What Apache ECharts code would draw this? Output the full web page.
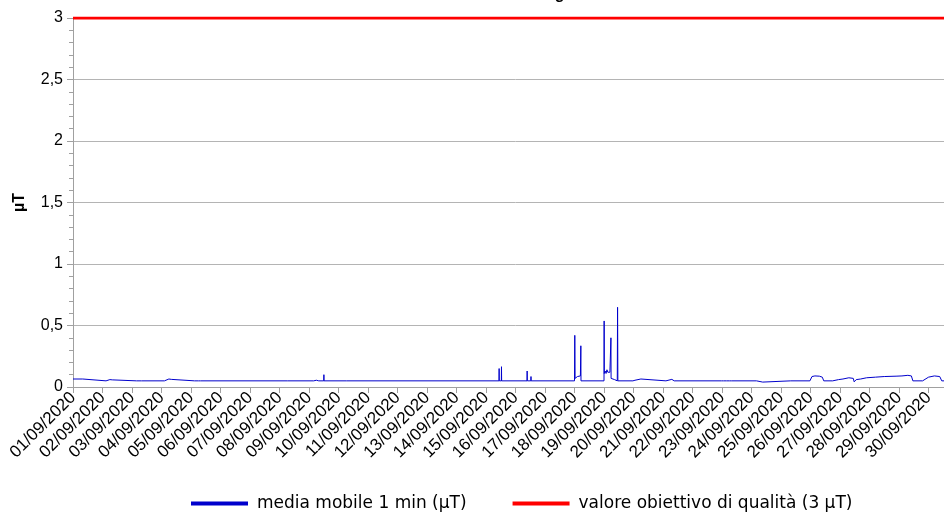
<!DOCTYPE html>
<html>
<head>
<meta charset="utf-8">
<script src="https://cdn.jsdelivr.net/npm/echarts@6/dist/echarts.min.js"></script>
<style>html,body{margin:0;padding:0;background:#fff;overflow:hidden;width:944px;height:513px;}#c{width:958px;height:513px;}</style>
</head>
<body>
<div id="c"></div>
<script>
// Day offsets from 01/09/2020 00:00 and values (µT)
var dateLabels = ['01/09/2020','02/09/2020','03/09/2020','04/09/2020','05/09/2020','06/09/2020','07/09/2020','08/09/2020','09/09/2020','10/09/2020','11/09/2020','12/09/2020','13/09/2020','14/09/2020','15/09/2020','16/09/2020','17/09/2020','18/09/2020','19/09/2020','20/09/2020','21/09/2020','22/09/2020','23/09/2020','24/09/2020','25/09/2020','26/09/2020','27/09/2020','28/09/2020','29/09/2020','30/09/2020','01/10/2020'];
var yTicks = [0, 0.5, 1, 1.5, 2, 2.5, 3];
var blueDays = [0,0.33,0.36,1.12,1.14,1.25,1.33,1.36,2.15,2.16,2.18,2.32,2.33,2.35,3.1,3.14,3.25,3.33,3.37,4.12,4.13,4.15,4.25,4.27,4.32,4.34,4.36,7.28,7.29,7.32,8.16,8.17,8.2,8.25,8.3,8.33,8.5,8.505,8.51,9.28,9.29,9.31,14.44,14.445,14.45,14.52,14.525,14.53,15.39,15.395,15.4,15.52,15.525,15.53,17.0,17.01,17.02,17.06,17.1,17.15,17.2,17.215,17.22,18.0,18.005,18.01,18.04,18.07,18.1,18.13,18.16,18.2,18.235,18.24,18.3,18.36,18.38,18.45,18.46,18.465,18.47,18.98,19.0,19.05,19.1,19.25,19.3,20.1,20.15,20.3,20.38,21.98,22.0,22.05,22.1,22.15,22.2,22.25,22.3,22.33,23.17,23.18,23.38,23.4,24.33,24.34,24.36,24.98,25.05,25.15,25.3,25.4,25.45,25.75,25.77,25.8,25.95,26.1,26.3,26.45,26.48,26.55,26.7,26.9,27.2,27.5,27.9,28.1,28.3,28.42,28.47,28.8,28.85,29.0,29.2,29.38,29.45,30];
var blueValues = [0.065,0.065,0.05,0.05,0.062,0.06,0.058,0.05,0.05,0.042,0.05,0.05,0.042,0.05,0.05,0.06,0.065,0.062,0.05,0.05,0.042,0.05,0.05,0.055,0.05,0.042,0.05,0.05,0.043,0.05,0.05,0.043,0.05,0.055,0.06,0.05,0.05,0.1,0.05,0.05,0.043,0.05,0.05,0.15,0.05,0.05,0.165,0.05,0.05,0.13,0.05,0.05,0.085,0.05,0.05,0.42,0.07,0.08,0.085,0.08,0.09,0.335,0.05,0.05,0.537,0.11,0.13,0.11,0.14,0.12,0.135,0.12,0.4,0.07,0.06,0.06,0.05,0.05,0.648,0.4,0.05,0.05,0.04,0.055,0.062,0.065,0.05,0.05,0.06,0.062,0.05,0.05,0.04,0.05,0.04,0.05,0.04,0.05,0.04,0.05,0.05,0.04,0.04,0.05,0.05,0.04,0.05,0.05,0.085,0.09,0.088,0.08,0.05,0.05,0.045,0.055,0.06,0.065,0.075,0.07,0.042,0.06,0.065,0.075,0.08,0.085,0.088,0.09,0.095,0.09,0.05,0.05,0.065,0.08,0.09,0.085,0.05,0.05];
var redDays = [0, 30];
var redValues = [3, 3];

var blueData = blueDays.map(function (d, i) { return [d, blueValues[i]]; });
var redData = redDays.map(function (d, i) { return [d, redValues[i]]; });

var chart = echarts.init(document.getElementById('c'), null, {renderer: 'canvas'});
chart.setOption({
  animation: false,
  backgroundColor: '#ffffff',
  title: {
    text: "Andamento dell'induzione magnetica - settembre 2020",
    left: 530, textAlign: 'center', top: -18,
    textStyle: {fontFamily: 'Liberation Sans', fontSize: 16, fontWeight: 'bold', color: '#000'}
  },
  grid: {left: 73, right: 0, top: 18, bottom: 126, containLabel: false},
  legend: {
    left: 186, top: 490,
    itemWidth: 57, itemHeight: 4, itemGap: 46,
    icon: 'rect',
    textStyle: {fontFamily: 'DejaVu Sans', fontSize: 17, color: '#000', padding: [0, 0, 0, 4]},
    data: ['media mobile 1 min (µT)', 'valore obiettivo di qualità (3 µT)']
  },
  xAxis: {
    type: 'value', min: 0, max: 30, interval: 1,
    axisLine: {show: true, lineStyle: {color: '#a0a0a0', width: 1}},
    axisTick: {show: true, length: 6, lineStyle: {color: '#a0a0a0'}},
    splitLine: {show: false},
    axisLabel: {
      rotate: 45, margin: 8, showMaxLabel: false,
      fontFamily: 'Liberation Sans', fontSize: 17, color: '#000',
      formatter: function (v) { return dateLabels[Math.round(v)] || ''; }
    }
  },
  yAxis: {
    type: 'value', min: yTicks[0], max: yTicks[yTicks.length - 1], interval: 0.5,
    name: 'µT', nameLocation: 'middle', nameGap: 45,
    nameTextStyle: {fontFamily: 'Liberation Sans', fontSize: 16, fontWeight: 'bold', color: '#000'},
    axisLine: {show: true, lineStyle: {color: '#a0a0a0', width: 1}},
    axisTick: {show: true, length: 6, lineStyle: {color: '#a0a0a0'}},
    minorTick: {show: true, splitNumber: 5, length: 4, lineStyle: {color: '#a0a0a0'}},
    splitLine: {show: true, lineStyle: {color: '#b4b4b4', width: 1}},
    axisLabel: {
      margin: 10, fontFamily: 'Liberation Sans', fontSize: 16, color: '#000',
      formatter: function (v) { return String(v).replace('.', ','); }
    }
  },
  series: [
    {
      name: 'media mobile 1 min (µT)', type: 'line', data: blueData,
      showSymbol: false, symbol: 'none',
      lineStyle: {color: '#0000cc', width: 1}, itemStyle: {color: '#0000cc'}, z: 3
    },
    {
      name: 'valore obiettivo di qualità (3 µT)', type: 'line', data: redData,
      showSymbol: false, symbol: 'none',
      lineStyle: {color: '#ff0000', width: 3}, itemStyle: {color: '#ff0000'}, z: 4
    }
  ]
});
</script>
</body>
</html>
